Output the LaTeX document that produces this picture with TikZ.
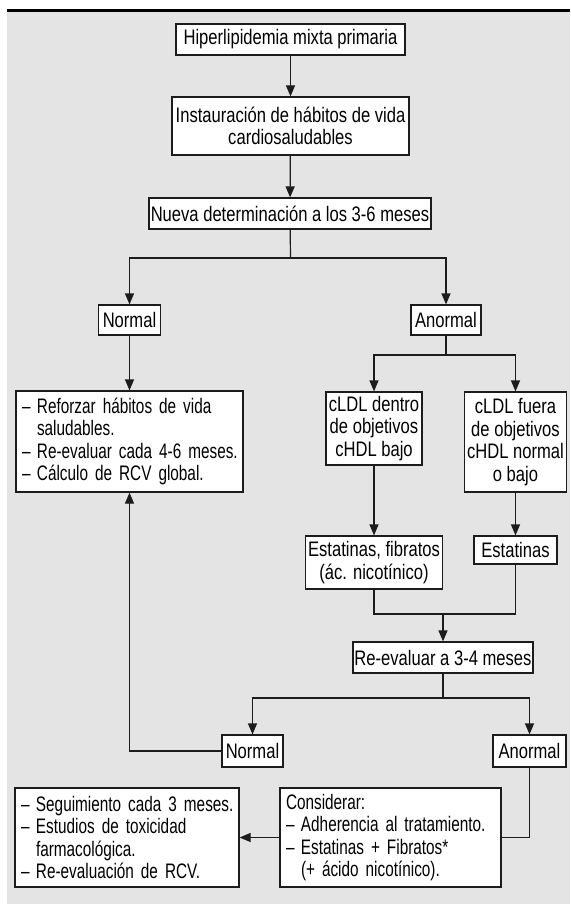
\documentclass[tikz,border=0pt]{standalone}
\usepackage{fontspec}
\setmainfont[FakeStretch=0.79]{Liberation Sans}
\newfontfamily\listfamily[FakeStretch=0.73]{Liberation Sans}
\usetikzlibrary{arrows.meta}

\definecolor{bggray}{HTML}{E4E4E4}
\definecolor{linec}{HTML}{1C1C1C}

\newcommand\mainsz{\fontsize{21pt}{22.5pt}\selectfont}
\newcommand\itm{\makebox[15pt][l]{–}}
\newcommand\cont{\hspace*{15pt}}
\newcommand\lineitem[1]{\mbox{#1}}

\begin{document}
\begin{tikzpicture}[x=1pt, y=-1pt,
  box/.style={draw=linec, line width=1.2pt, fill=white, inner sep=0pt,
    align=center, font=\mainsz, text=black},
  listbox/.style={box, align=left, inner xsep=6pt, text width=#1,
    font=\listfamily\mainsz},
  arr/.style={draw=linec, line width=1.2pt, -{Triangle[length=11pt,width=9pt]}},
  conn/.style={draw=linec, line width=1.2pt}]

  % page frame: white margin, grey panel, black rule on top
  \useasboundingbox (0,0) rectangle (570,904);
  \fill[bggray] (7,12) rectangle (570,904);
  \fill[black] (7,9) rectangle (570,12.3);

  % boxes
  \node[box, minimum width=229pt, minimum height=31pt] (b1) at (290.5,39.5)
    {Hiperlipidemia mixta primaria};
  \node[box, minimum width=237pt, minimum height=58pt] (b2) at (290.5,126)
    {Instauración de hábitos de vida\\cardiosaludables};
  \node[box, minimum width=282pt, minimum height=31pt] (b3) at (290,213.5)
    {Nueva determinación a los 3-6 meses};

  \node[box, minimum width=62pt, minimum height=30pt] (n1) at (129.5,320) {Normal};
  \node[box, minimum width=70pt, minimum height=30pt] (a1) at (446,320) {Anormal};

  \node[listbox=215pt, minimum height=101pt] (lbox) at (129.5,441.5)
    {\lineitem{\itm Reforzar hábitos de vida}\\
     \lineitem{\cont saludables.}\\
     \lineitem{\itm Re-evaluar cada 4-6 meses.}\\
     \lineitem{\itm Cálculo de RCV global.}};

  \node[box, minimum width=96pt, minimum height=73pt] (dentro) at (374,428.5)
    {cLDL dentro\\de objetivos\\cHDL bajo};
  \node[box, minimum width=102pt, minimum height=100pt] (fuera) at (515.5,442)
    {cLDL fuera\\de objetivos\\cHDL normal\\o bajo};

  \node[box, minimum width=137pt, minimum height=53pt] (fib) at (374,562.5)
    {Estatinas, fibratos\\(ác. nicotínico)};
  \node[box, minimum width=83pt, minimum height=28pt] (est) at (515.5,550)
    {Estatinas};

  \node[box, minimum width=180pt, minimum height=31pt] (reev) at (443,657.5)
    {Re-evaluar a 3-4 meses};

  \node[box, minimum width=61pt, minimum height=32pt] (n2) at (252.5,751) {Normal};
  \node[box, minimum width=73pt, minimum height=32pt] (a2) at (529.5,751) {Anormal};

  \node[listbox=212pt, minimum height=99pt] (bl) at (127,837.5)
    {\lineitem{\itm Seguimiento cada 3 meses.}\\
     \lineitem{\itm Estudios de toxicidad}\\
     \lineitem{\cont farmacológica.}\\
     \lineitem{\itm Re-evaluación de RCV.}};
  \node[listbox=209pt, minimum height=99pt] (cons) at (390.5,837.5)
    {\lineitem{Considerar:}\\
     \lineitem{\itm Adherencia al tratamiento.}\\
     \lineitem{\itm Estatinas + Fibratos*}\\
     \lineitem{\cont(+ ácido nicotínico).}};

  % junction points
  \coordinate (j1) at (290.5,258);
  \coordinate (j2) at (446,355);
  \coordinate (j3) at (443,614);
  \coordinate (j4) at (443,698);

  % connectors
  \draw[arr] (b1) -- (b2);
  \draw[arr] (b2) -- (b3);
  \draw[conn] (b3) -- (j1);
  \draw[arr] (j1) -| (n1);
  \draw[arr] (j1) -| (a1);
  \draw[arr] (n1.south) -- (n1.south |- lbox.north);

  \draw[conn] (a1) -- (j2);
  \draw[arr] (j2) -| (dentro);
  \draw[arr] (j2) -| (fuera);
  \draw[arr] (dentro) -- (fib);
  \draw[arr] (fuera) -- (est);

  \draw[conn] (fib.south) |- (est.south |- j3) -- (est.south);
  \draw[arr] (j3) -- (reev);

  \draw[conn] (reev) -- (j4);
  \draw[arr] (j4) -| (n2);
  \draw[arr] (j4) -| (a2);

  \draw[arr] (n2.west) -| (n1.south |- lbox.south);
  \draw[conn] (a2.south) |- (cons.east);
  \draw[arr] (cons.west) -- (bl.east);
\end{tikzpicture}
\end{document}
